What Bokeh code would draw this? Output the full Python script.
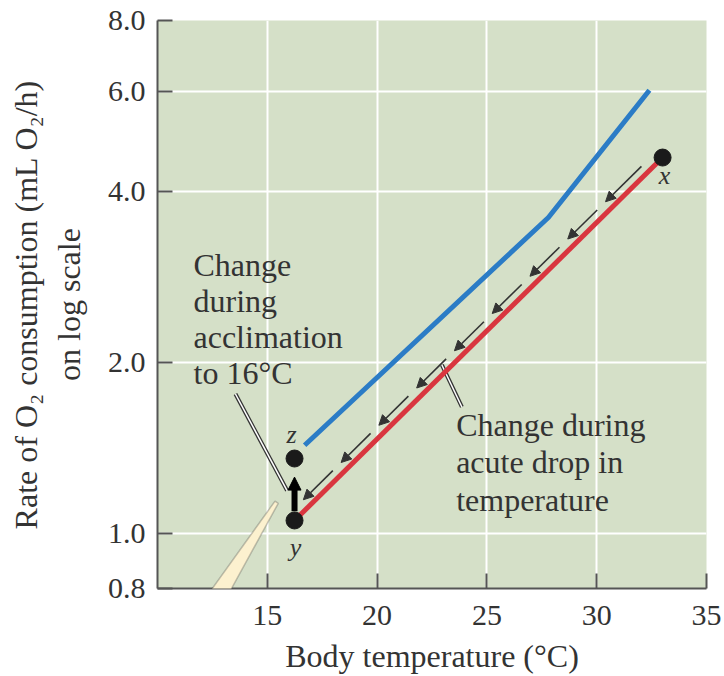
import numpy as np
from bokeh.plotting import figure
from bokeh.models import (FixedTicker, Label, Arrow, NormalHead, ColumnDataSource,
                          PolyAnnotation, NumeralTickFormatter)
from bokeh.embed import file_html
from bokeh.resources import INLINE

# ---------------- data ----------------
acclim_temp = [16.7, 27.8, 32.4]          # blue curve (acclimated)
acclim_rate = [1.43, 3.6, 6.03]
acute_temp = [16.24, 33.0]                # red line (acute drop)
acute_rate = [1.054, 4.59]
point_names = ["x", "y", "z"]
point_temp = [33.0, 16.24, 16.24]
point_rate = [4.59, 1.054, 1.355]
x_ticks = [15, 20, 25, 30, 35]
x_grid = [15, 20, 25, 30]
y_ticks = [0.8, 1.0, 2.0, 4.0, 6.0, 8.0]
y_grid = [1.0, 2.0, 4.0, 6.0]

# annotation layout helpers
callout1 = ([13.55, 15.9], [1.76, 1.19])
callout2 = ([22.95, 23.86], [1.98, 1.67])
wedge_x = [15.35, 15.5, 10.8, 9.13]
wedge_y = [1.14, 1.13, 0.527, 0.527]

SERIF = "Liberation Serif"
TXT = "#333333"

p = figure(width=724, height=676, x_range=(10, 35), y_range=(0.8, 8.0),
           y_axis_type="log", output_backend="svg", toolbar_location=None,
           min_border_left=157, min_border_right=18, min_border_top=20,
           min_border_bottom=88)
p.background_fill_color = "#d5e0c8"
p.border_fill_color = "white"
p.outline_line_color = None

# axes
for ax in (p.xaxis, p.yaxis):
    ax.axis_line_color = "#555555"
    ax.axis_line_width = 2
    ax.major_tick_line_color = "#555555"
    ax.major_tick_line_width = 2
    ax.major_tick_in = 15
    ax.major_tick_out = 0
    ax.minor_tick_line_color = None
    ax.major_label_text_font = SERIF
    ax.major_label_text_font_size = "30px"
    ax.major_label_text_color = TXT
    ax.axis_label_text_font = SERIF
    ax.axis_label_text_font_size = "32px"
    ax.axis_label_text_font_style = "normal"
    ax.axis_label_text_color = TXT

p.xaxis.ticker = FixedTicker(ticks=x_ticks)
p.yaxis.ticker = FixedTicker(ticks=y_ticks)
p.yaxis.formatter = NumeralTickFormatter(format="0.0")
p.xaxis.major_label_standoff = 17
p.yaxis.major_label_standoff = 12
p.xaxis.axis_label = "Body temperature (°C)"
p.yaxis.axis_label = "Rate of O₂ consumption (mL O₂/h)\non log scale"
p.xaxis.axis_label_standoff = 10
p.yaxis.axis_label_standoff = 18

p.xgrid.ticker = FixedTicker(ticks=x_grid)
p.ygrid.ticker = FixedTicker(ticks=y_grid)
for g in (p.xgrid, p.ygrid):
    g.grid_line_color = "white"
    g.grid_line_width = 2

# callout leader lines (double line look)
for cx, cy in (callout1, callout2):
    p.line(cx, cy, line_color="#333333", line_width=4)
    p.line(cx, cy, line_color="white", line_width=1.5)

# curves
p.line(acclim_temp, acclim_rate, line_color="#2b7cc6", line_width=5)
p.line(acute_temp, acute_rate, line_color="#d9363f", line_width=5)

# dashed arrow chain from x toward y (parallel to red line)
lx = np.log10
tx, ty = point_temp[0], point_rate[0]
yx, yy = point_temp[1], point_rate[1]
shift = 1.05
heads = np.linspace(0.155, 0.976, 9)
period = heads[1] - heads[0]
starts = heads - 0.78 * period
starts[0] = heads[0] - 0.95 * period

def along(t):
    t = np.asarray(t)
    return tx + t * (yx - tx), 10 ** (lx(ty) + t * (lx(yy) - lx(ty))) * shift

x0, y0 = along(starts)
x1, y1 = along(heads)
src = ColumnDataSource(dict(x0=x0, y0=y0, x1=x1, y1=y1))
p.add_layout(Arrow(x_start="x0", y_start="y0", x_end="x1", y_end="y1", source=src,
                   line_color="#333333", line_width=1.6,
                   end=NormalHead(size=10, fill_color="#333333", line_color="#333333",
                                  line_width=1)))

# acclimation arrow y -> z
zx, zy = point_temp[2], point_rate[2]
def yz(t):
    return yx + t * (zx - yx), 10 ** (lx(yy) + t * (lx(zy) - lx(yy)))
ax0, ay0 = yz(0.15)
ax1, ay1 = yz(0.7)
p.add_layout(Arrow(x_start=ax0, y_start=ay0, x_end=ax1, y_end=ay1,
                   line_color="black", line_width=6,
                   end=NormalHead(size=13, fill_color="black", line_color="black",
                                  line_width=1)))

# points
p.scatter(point_temp, point_rate, size=17, fill_color="#1a1a1a", line_color="#1a1a1a")

# point labels
offsets = {"x": (2, -18), "y": (1, -27), "z": (-3, 24)}
for name, t, r in zip(point_names, point_temp, point_rate):
    dx, dy = offsets[name]
    p.add_layout(Label(x=t, y=r, x_offset=dx, y_offset=dy, text=name,
                       text_font=SERIF, text_font_style="italic",
                       text_font_size="26px", text_color=TXT,
                       text_align="center", text_baseline="middle"))

# text annotations
p.add_layout(Label(x=11.64, y=3.2, text="Change\nduring\nacclimation\nto 16°C",
                   text_font=SERIF, text_font_size="32px", text_color=TXT,
                   text_align="left", text_baseline="top", text_line_height=1.0))
p.add_layout(Label(x=23.6, y=1.667, text="Change during\nacute drop in\ntemperature",
                   text_font=SERIF, text_font_size="32px", text_color=TXT,
                   text_align="left", text_baseline="top", text_line_height=1.03))

# beige pointer wedge
p.add_layout(PolyAnnotation(xs=wedge_x, ys=wedge_y, fill_color="#fcf1cf", fill_alpha=1,
                            line_color="#444444", line_width=1.5))

open("out.html", "w").write(file_html(p, INLINE))
